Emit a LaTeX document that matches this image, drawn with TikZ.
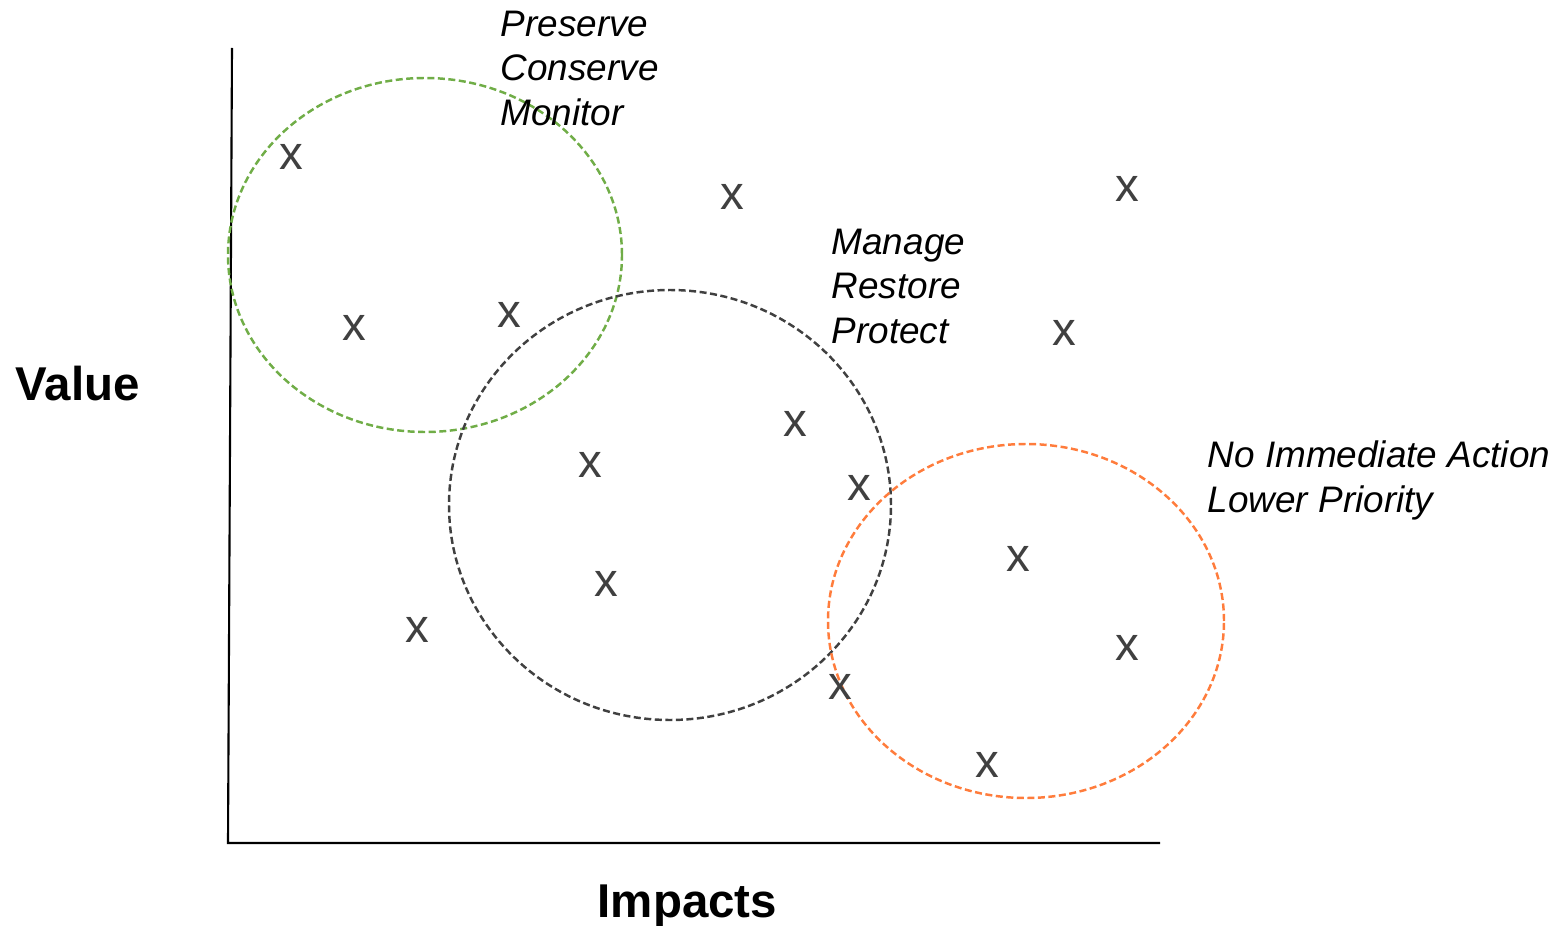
\documentclass[tikz,border=0pt]{standalone}
\usepackage{fontspec}
\setmainfont{Liberation Sans}
\usetikzlibrary{positioning}
\definecolor{zonegreen}{RGB}{112,173,71}
\definecolor{zoneorange}{RGB}{255,124,60}
\definecolor{zonegray}{RGB}{64,64,64}

\tikzset{
	axis/.style={line width=0.6pt},
	zone/.style={line width=0.7pt, dash pattern=on 2pt off 1pt},
	xmark/.style={text=zonegray, font=\fontsize{13.5}{15}\selectfont, inner sep=0pt},
	action/.style={font=\fontsize{10.5}{12.7}\selectfont\itshape, align=left, anchor=north west, inner sep=0pt},
	axislabel/.style={font=\fontsize{13.5}{16}\selectfont\bfseries, anchor=base west, inner sep=0pt}
}

\begin{document}
\begin{tikzpicture}[x=0.1mm, y=-0.1mm]
	\useasboundingbox (0,0) rectangle (1566,926);
	
	\coordinate (ytop) at (232,48);
	\coordinate (origin) at (228,843);
	\coordinate (xend) at (1160,843);
	\draw[axis] (ytop) -- (origin) -- (xend);
	
	\node[axislabel] (value) at (15,400) {Value};
	\node[axislabel] (impacts) at (597,917) {Impacts};
	
	\draw[zone, zonegreen] (425,255) ellipse [x radius=1.97cm, y radius=1.77cm];
	\draw[zone, zonegray] (670,505) ellipse [x radius=2.21cm, y radius=2.15cm];
	\draw[zone, zoneorange] (1026,621) ellipse [x radius=1.98cm, y radius=1.77cm];
	
	\node[action] (preserve) at (500,10) {Preserve\\Conserve\\Monitor};
	\node[action] (manage) at (831,228) {Manage\\Restore\\Protect};
	\node[action] (noaction) at (1207,440) {No Immediate Action\\Lower Priority};
	
	\node[xmark] (x1) at (291,157) {x};
	\node[xmark] (x2) at (732,197) {x};
	\node[xmark] (x3) at (1127,189) {x};
	\node[xmark] (x4) at (354,328) {x};
	\node[xmark] (x5) at (509,315) {x};
	\node[xmark] (x6) at (1064,333) {x};
	\node[xmark] (x7) at (795,424) {x};
	\node[xmark] (x8) at (590,465) {x};
	\node[xmark] (x9) at (859,488) {x};
	\node[xmark] (x10) at (1018,559) {x};
	\node[xmark] (x11) at (606,584) {x};
	\node[xmark] (x12) at (417,630) {x};
	\node[xmark] (x13) at (1127,648) {x};
	\node[xmark] (x14) at (840,687) {x};
	\node[xmark] (x15) at (987,765) {x};
\end{tikzpicture}
\end{document}
